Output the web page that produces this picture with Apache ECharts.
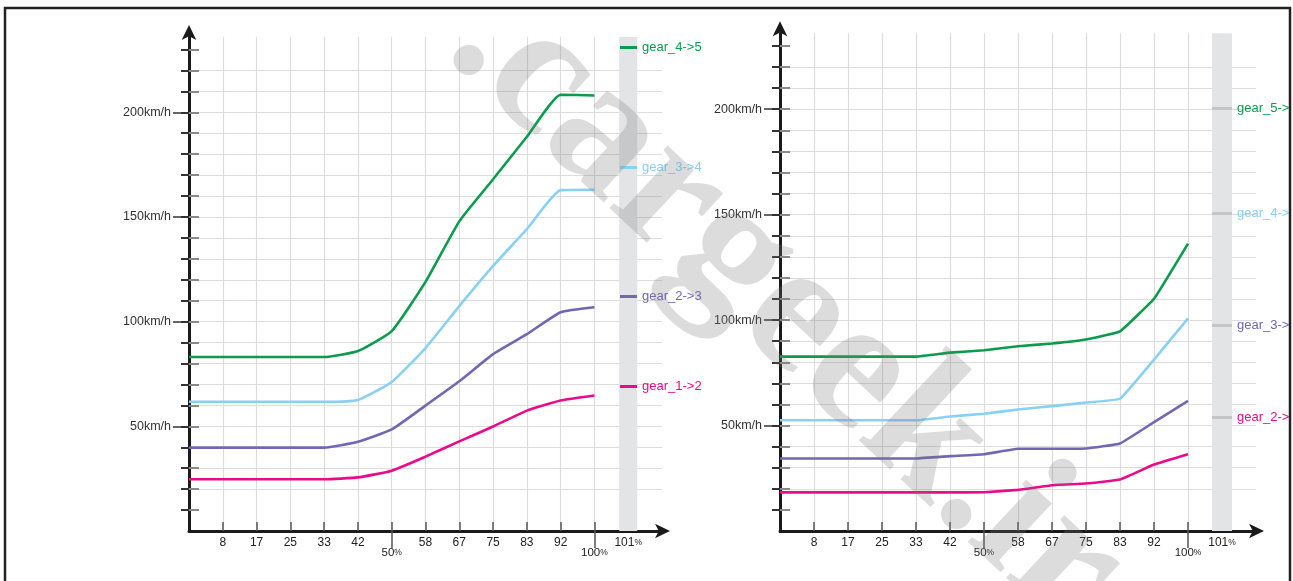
<!DOCTYPE html>
<html><head><meta charset="utf-8">
<script src="https://cdn.jsdelivr.net/npm/echarts@6/dist/echarts.min.js"></script>
<style>html,body{margin:0;padding:0;background:#fff}#c{width:1293px;height:581px}</style>
</head><body><div id="c"></div>
<script>
// ---- data ----
const categories = ['', '8', '17', '25', '33', '42', '50%', '58', '67', '75', '83', '92', '100%', '101%', ''];
const yTickValues = [10,20,30,40,50,60,70,80,90,100,110,120,130,140,150,160,170,180,190,200,210,220,230];
const yLabelValues = [50, 100, 150, 200];
const yMax = 236;

// upshift chart (left)
const upNames = ['gear_1->2', 'gear_2->3', 'gear_3->4', 'gear_4->5'];
const up1to2 = [24.7, 24.7, 24.7, 24.7, 24.7, 25.6, 28.8, 35.5, 42.8, 49.9, 57.5, 62.3, 64.7];
const up2to3 = [39.8, 39.8, 39.8, 39.8, 39.8, 42.6, 48.5, 59.9, 71.5, 84.5, 94.0, 104.5, 106.9];
const up3to4 = [61.7, 61.7, 61.7, 61.7, 61.7, 62.6, 71.2, 87.4, 107.4, 126.6, 144.2, 162.8, 163.0];
const up4to5 = [83.1, 83.1, 83.1, 83.1, 83.1, 86.0, 95.5, 119.0, 147.9, 168.0, 188.3, 208.4, 208.0];

// downshift chart (right)
const downNames = ['gear_2->1', 'gear_3->2', 'gear_4->3', 'gear_5->4'];
const down2to1 = [18.3, 18.3, 18.3, 18.3, 18.3, 18.3, 18.4, 19.5, 21.7, 22.5, 24.4, 31.5, 36.4];
const down3to2 = [34.4, 34.4, 34.4, 34.4, 34.4, 35.5, 36.4, 39.0, 39.0, 39.1, 41.5, 51.6, 61.7];
const down4to3 = [52.5, 52.5, 52.5, 52.5, 52.5, 54.3, 55.6, 57.6, 59.2, 60.9, 62.7, 81.3, 100.8];
const down5to4 = [82.7, 82.7, 82.7, 82.7, 82.7, 84.6, 85.7, 87.6, 88.9, 90.8, 94.7, 110.1, 136.3];

const seriesColors = ['#ea0a8a', '#7167b3', '#88d1f5', '#0b9c4b'];
const bandIndex = 13;

// ---- chart ----
const FONT = '"Liberation Sans", Arial, sans-serif';
const chart = echarts.init(document.getElementById('c'));

const grids = [
  { left: 189, right: 631, top: 36.9, bottom: 50 },
  { left: 780, right: 37, top: 33.3, bottom: 50 }
];

function xAxesFor(gi) {
  return [
    {
      type: 'category', gridIndex: gi, data: categories, boundaryGap: false, position: 'bottom', offset: 0,
      axisLine: { show: true, lineStyle: { color: '#1a1a1a', width: 3 }, symbol: ['none', 'arrow'], symbolSize: [11, 15], symbolOffset: [0, 8] },
      axisTick: { show: true, inside: true, length: 9, interval: (i) => i > 0 && i < 14, lineStyle: { color: '#555', width: 1.5 } },
      axisLabel: {
        show: true, interval: (i) => i > 0 && i < 14, margin: 6, color: '#222', fontSize: 12, fontFamily: FONT,
        formatter: (v) => {
          if (v === '50%' || v === '100%') return '{s| }\n{d|' + v.slice(0, -1) + '}{q|%}';
          if (v === '101%') return '{n|101}{q|%}';
          return v;
        },
        rich: {
          s: { fontSize: 2, lineHeight: 10 },
          d: { fontSize: 11.5, color: '#222', fontFamily: FONT },
          n: { fontSize: 12, color: '#222', fontFamily: FONT },
          q: { fontSize: 8.5, color: '#222', fontFamily: FONT }
        }
      },
      splitLine: { show: true, interval: (i) => i > 0 && i < 14, lineStyle: { color: '#dcdcdc', width: 1.2 } }
    },
    {
      type: 'category', gridIndex: gi, data: categories, boundaryGap: false, position: 'bottom', offset: 0,
      axisLine: { show: false },
      axisTick: { show: true, inside: false, length: 17, interval: (i) => i === 6 || i === 12, lineStyle: { color: '#555', width: 1.5 } },
      axisLabel: { show: false },
      splitLine: { show: false }
    }
  ];
}

function yAxesFor(gi) {
  return [
    {
      type: 'value', gridIndex: gi, min: 0, max: yMax, interval: 10, position: 'left', offset: 0,
      axisLine: { show: true, lineStyle: { color: '#1a1a1a', width: 3 }, symbol: ['none', 'arrow'], symbolSize: [11, 15], symbolOffset: [0, 12] },
      axisTick: { show: true, inside: false, length: 8, customValues: yTickValues, lineStyle: { color: '#333', width: 2 } },
      axisLabel: { show: false },
      splitLine: { show: true, showMinLine: false, showMaxLine: false, lineStyle: { color: '#dcdcdc', width: 1.2 } }
    },
    {
      type: 'value', gridIndex: gi, min: 0, max: yMax, interval: 10, position: 'left', offset: 0,
      axisLine: { show: false },
      axisTick: { show: true, inside: true, length: 10, customValues: yTickValues, lineStyle: { color: '#8a8a8a', width: 2 } },
      axisLabel: { show: false },
      splitLine: { show: false }
    },
    {
      type: 'value', gridIndex: gi, min: 0, max: yMax, interval: 50, position: 'left', offset: 0,
      axisLine: { show: false },
      axisTick: { show: true, inside: false, length: 16, customValues: yLabelValues, lineStyle: { color: '#333', width: 1.5 } },
      axisLabel: { show: true, customValues: yLabelValues, margin: 18, color: '#333', fontSize: 12.5, fontFamily: FONT, formatter: (v) => v + 'km/h' },
      splitLine: { show: false }
    }
  ];
}

function bandSeries(gi, width) {
  const data = categories.map((c, i) => (i === bandIndex ? yMax : '-'));
  return {
    type: 'bar', name: 'band' + gi, xAxisIndex: gi * 2, yAxisIndex: gi * 3, data, barWidth: width,
    itemStyle: { color: '#e3e4e6' }, silent: true, z: 1, animation: false
  };
}

function lineSeries(gi, name, data, color, smooth) {
  return {
    type: 'line', name, xAxisIndex: gi * 2, yAxisIndex: gi * 3, data, showSymbol: false, symbol: 'none',
    smooth, lineStyle: { color, width: 2.6 }, itemStyle: { color }, z: 3, animation: false
  };
}

const upData = [up1to2, up2to3, up3to4, up4to5];
const downData = [down2to1, down3to2, down4to3, down5to4];

const series = [bandSeries(0, 18), bandSeries(1, 20)];
upNames.forEach((n, k) => series.push(lineSeries(0, n, upData[k], seriesColors[k], 0.15)));
downNames.forEach((n, k) => series.push(lineSeries(1, n, downData[k], seriesColors[k], 0.08)));

// legend positions (label markers beside the grey bands)
const upLegendTops = [380, 290, 161, 41];
const downLegendTops = [411, 319, 207, 102];
const legends = [];
upNames.forEach((n, k) => legends.push({
  left: 620, top: upLegendTops[k], padding: 0, orient: 'vertical', selectedMode: false,
  itemWidth: 17, itemHeight: 3, data: [{ name: n, icon: 'rect' }],
  textStyle: { color: seriesColors[k], fontSize: 13, fontFamily: FONT, lineHeight: 12 }
}));
downNames.forEach((n, k) => legends.push({
  left: 1212, top: downLegendTops[k], padding: 0, orient: 'vertical', selectedMode: false,
  itemWidth: 20, itemHeight: 3, data: [{ name: n, icon: 'rect', itemStyle: { color: '#c4c5c7' } }],
  textStyle: { color: seriesColors[k], fontSize: 13, fontFamily: FONT, lineHeight: 12 }
}));

chart.setOption({
  animation: false,
  backgroundColor: '#fff',
  grid: grids,
  xAxis: [...xAxesFor(0), ...xAxesFor(1)],
  yAxis: [...yAxesFor(0), ...yAxesFor(1)],
  legend: legends,
  series,
  graphic: [
    {
      type: 'text', x: 476, y: 18, rotation: -0.75, z: 100, silent: true,
      style: { text: '.cargeek.ir', font: 'bold 186px "Liberation Serif", serif', fill: 'rgba(120,120,120,0.26)', verticalAlign: 'middle', align: 'left' }
    },
    { type: 'rect', z: 110, silent: true, shape: { x: 1291, y: 0, width: 10, height: 600 }, style: { fill: '#fff' } },
    { type: 'rect', z: 111, silent: true, shape: { x: 5, y: 8, width: 1285, height: 620 }, style: { fill: 'none', stroke: '#222', lineWidth: 2.5 } }
  ]
});
</script>
</body></html>
